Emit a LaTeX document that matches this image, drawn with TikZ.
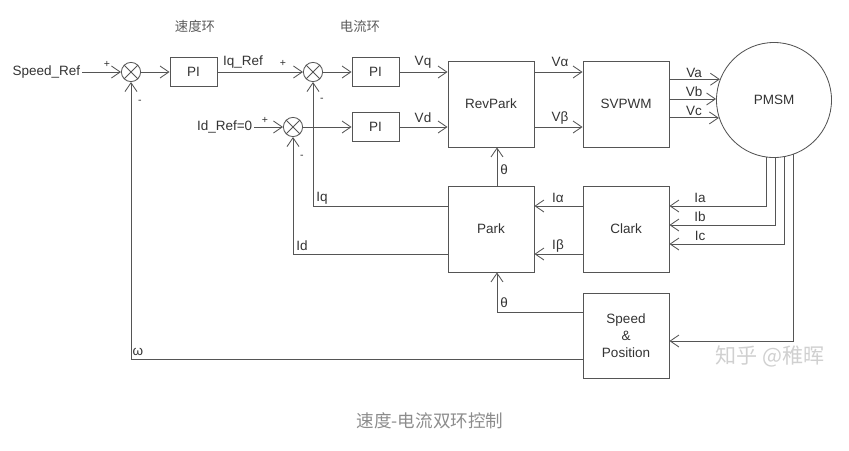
\documentclass[tikz,border=0pt]{standalone}
\usepackage{fontspec}
\setmainfont{Liberation Sans}
\newfontfamily\cjk{Noto Sans CJK SC}
\usetikzlibrary{arrows.meta, positioning, calc}
\definecolor{wire}{HTML}{555555}
\definecolor{ink}{HTML}{333333}
\definecolor{capgray}{HTML}{8C8C8C}
\definecolor{markgray}{HTML}{D0D0D0}

\begin{document}
\begin{tikzpicture}[
    x=0.025cm, y=-0.025cm,
    line width=0.6pt, color=wire,
    font=\fontsize{9.6}{11}\selectfont,
    blk/.style={draw, minimum width=2.15cm, minimum height=2.15cm, inner sep=0pt, text=ink},
    pibox/.style={draw, minimum width=1.175cm, minimum height=0.725cm, inner sep=0pt, text=ink},
    sumj/.style={draw, circle, minimum size=0.48cm, inner sep=0pt},
    lbl/.style={inner sep=1pt, text=ink},
    sgn/.style={inner sep=0pt, text=ink, font=\fontsize{7.5}{8}\selectfont},
    title/.style={text=ink!80, font=\cjk\fontsize{9.5}{11}\selectfont},
    arr/.style={-{Straight Barb[length=2.2mm, width=3mm]}}
]
\useasboundingbox (0,0) rectangle (849,450);

% titles
\node[title] (tspd) at (195,26) {速度环};
\node[title] (tcur) at (360,26) {电流环};

% speed loop
\node[lbl, anchor=east] (spdref) at (82,72) {Speed\_Ref};
\node[sumj] (s1) at (131,72) {};
\node[pibox] (pi1) at (193.5,72) {PI};

% current loop
\node[sumj] (s2) at (313,72) {};
\node[pibox] (pi2) at (375.5,72) {PI};
\node[lbl, anchor=east] (idref) at (254,127) {Id\_Ref=0};
\node[sumj] (s3) at (293,127) {};
\node[pibox] (pi3) at (375.5,127) {PI};

% transforms
\node[blk] (rev) at (491,104) {RevPark};
\node[blk] (svp) at (626,104) {SVPWM};
\node[blk] (park) at (491,229) {Park};
\node[blk] (clark) at (626,229) {Clark};
\node[blk, minimum height=2.125cm, align=center] (spos) at (626,335.5) {Speed\\[1pt]\&\\[1pt]Position};
\node[draw, circle, minimum size=2.875cm, inner sep=0pt, text=ink] (pmsm) at (774,100) {PMSM};

\foreach \s in {s1,s2,s3}
    \draw (\s.north west) -- (\s.south east) (\s.north east) -- (\s.south west);

% forward path
\draw[arr] (spdref) -- (s1);
\draw[arr] (s1) -- (pi1);
\draw[arr] (pi1) -- (s2);
\draw[arr] (s2) -- (pi2);
\draw[arr] (idref) -- (s3);
\draw[arr] (s3) -- (pi3);
\draw[arr] (pi2) -- (rev.west |- pi2);
\draw[arr] (pi3) -- (rev.west |- pi3);
\draw[arr] (rev.east |- pi2) -- (svp.west |- pi2);
\draw[arr] (rev.east |- pi3) -- (svp.west |- pi3);
\foreach \a in {159.6,179,198.2}
    \draw[arr] (svp.east |- pmsm.\a) -- (pmsm.\a);

% current feedback
\draw[arr] (pmsm.262) |- (clark.east |- 0,206);
\draw[arr] (pmsm.271) |- (clark.east |- 0,225);
\draw[arr] (pmsm.280) |- (clark.east |- 0,244);
\draw[arr] (clark.west |- 0,206) -- (park.east |- 0,206);
\draw[arr] (clark.west |- 0,254) -- (park.east |- 0,254);
\draw[arr] (park.west |- 0,206) -| (s2.south);
\draw[arr] (park.west |- 0,254) -| (s3.south);

% speed and position feedback
\draw[arr] (pmsm.290) |- (spos.east |- 0,341);
\draw[arr] (spos.west |- 0,312) -| (park.south -| 497,0);
\draw[arr] (park.north -| 497,0) -- (rev.south -| 497,0);
\draw[arr] (spos.west |- 0,359) -| (s1.south);

% signs
\node[sgn] (p1) at (107,64) {+};
\node[sgn] (m1) at (140,102) {-};
\node[sgn] (p2) at (283,63) {+};
\node[sgn] (m2) at (322,100) {-};
\node[sgn] (p3) at (265,120) {+};
\node[sgn] (m3) at (302,157) {-};

% signal labels
\node[lbl] (liqref) at (243,62) {Iq\_Ref};
\node[lbl] (lvq) at (423,62) {Vq};
\node[lbl] (lvd) at (423,118) {Vd};
\node[lbl] (lva) at (560,62) {Vα};
\node[lbl] (lvb) at (560,118) {Vβ};
\node[lbl] (lua) at (694,73) {Va};
\node[lbl] (lub) at (694,92) {Vb};
\node[lbl] (luc) at (694,111) {Vc};
\node[lbl] (lia) at (700,198) {Ia};
\node[lbl] (lib) at (700,217) {Ib};
\node[lbl] (lic) at (700,236) {Ic};
\node[lbl] (lial) at (558,198) {Iα};
\node[lbl] (libe) at (558,246) {Iβ};
\node[lbl] (lth1) at (504,170) {θ};
\node[lbl] (lth2) at (504,303) {θ};
\node[lbl] (liq) at (322,198) {Iq};
\node[lbl] (lid) at (302,246) {Id};
\node[lbl] (lom) at (138,352) {ω};

% caption and mark
\node[text=markgray, font=\cjk\fontsize{15}{17}\selectfont] (mark) at (770,356) {知乎 @稚晖};
\node[text=capgray, font=\cjk\fontsize{12.5}{14}\selectfont] (cap) at (430,421) {速度-电流双环控制};
\end{tikzpicture}
\end{document}
